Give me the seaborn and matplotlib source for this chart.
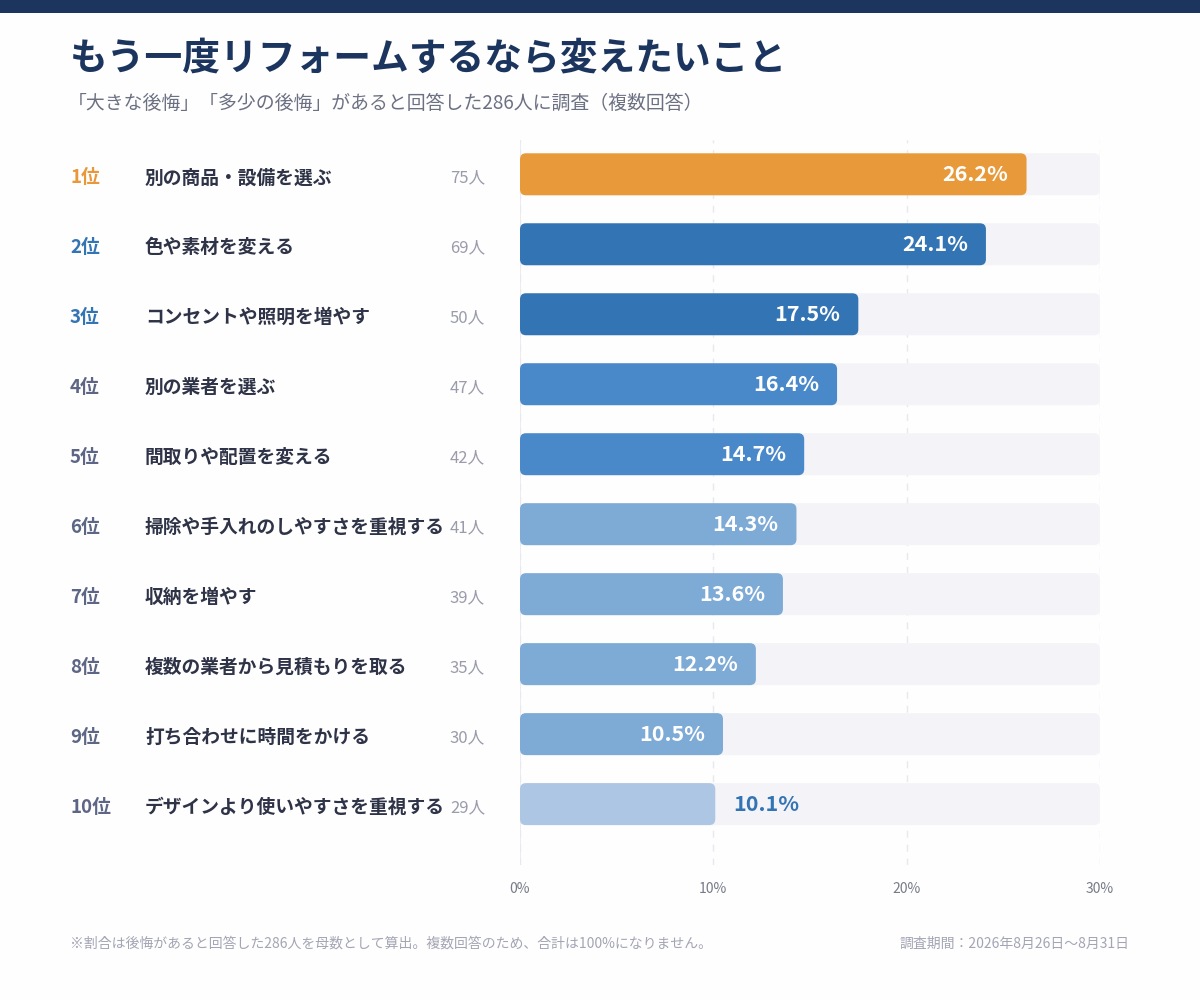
import matplotlib
matplotlib.use('Agg')
import matplotlib.pyplot as plt
import matplotlib.transforms as mtransforms
from matplotlib.patches import FancyBboxPatch, Rectangle
import seaborn as sns
import pandas as pd

# data
ranks = ['1位', '2位', '3位', '4位', '5位', '6位', '7位', '8位', '9位', '10位']
items = [
    '別の商品・設備を選ぶ',
    '色や素材を変える',
    'コンセントや照明を増やす',
    '別の業者を選ぶ',
    '間取りや配置を変える',
    '掃除や手入れのしやすさを重視する',
    '収納を増やす',
    '複数の業者から見積もりを取る',
    '打ち合わせに時間をかける',
    'デザインより使いやすさを重視する',
]
counts = [75, 69, 50, 47, 42, 41, 39, 35, 30, 29]
pcts = [26.2, 24.1, 17.5, 16.4, 14.7, 14.3, 13.6, 12.2, 10.5, 10.1]
x_ticks = [0, 10, 20, 30]
x_max = 30

bar_colors = ['#e89a3a', '#3374b4', '#3374b4', '#4a89c9', '#4a89c9',
              '#7eaad6', '#7eaad6', '#7eaad6', '#7eaad6', '#adc6e3']
rank_colors = ['#e8983a', '#3374b4', '#3374b4', '#5d6685', '#5d6685',
               '#5d6685', '#5d6685', '#5d6685', '#5d6685', '#5d6685']

NAVY = '#1c355e'
TEXT = '#2e3347'
GREY = '#9a9cab'

df = pd.DataFrame({'item': items, 'pct': pcts, 'track': [x_max] * len(items)})

sns.set_theme(style='white')
plt.rcParams['font.family'] = ['Noto Sans CJK JP', 'DejaVu Sans']

fig = plt.figure(figsize=(12, 10), dpi=100)
fig.patch.set_facecolor('#fefefe')
fig.patches.append(Rectangle((0, 0.987), 1, 0.013, transform=fig.transFigure,
                             facecolor=NAVY, edgecolor='none'))

ax = fig.add_axes([520 / 1200, 0.135, 580 / 1200, 0.725])
ax.set_facecolor('none')

sns.barplot(data=df, x='track', y='item', color='#f4f3f9', width=0.6,
            orient='h', ax=ax)
n_track = len(ax.patches)
sns.barplot(data=df, x='pct', y='item', hue='item', palette=bar_colors,
            legend=False, width=0.6, orient='h', ax=ax, saturation=1)

ax.set_xlim(0, x_max)
ax.set_ylim(9.87, -0.49)


def round_bars(ax, radius_px=6):
    # swap the rectangles for rounded boxes with the same geometry
    p0 = ax.transData.transform((0, 0))
    px_x = abs(ax.transData.transform((1, 0))[0] - p0[0])
    px_y = abs(ax.transData.transform((0, 1))[1] - p0[1])
    r = radius_px / px_x
    aspect = px_x / px_y
    for i, p in enumerate(list(ax.patches)):
        x, y, w, h = p.get_x(), p.get_y(), p.get_width(), p.get_height()
        fc = p.get_facecolor()
        p.remove()
        box = FancyBboxPatch((x, y), w, h,
                             boxstyle=f'round,pad=0,rounding_size={r}',
                             mutation_aspect=aspect, facecolor=fc,
                             edgecolor='none', zorder=2 if i < n_track else 3)
        ax.add_patch(box)


round_bars(ax)

# value labels
for i, v in enumerate(pcts):
    if v >= 10.5:
        ax.annotate(f'{v:.1f}%', (v, i), xytext=(-18, 0),
                    textcoords='offset pixels', ha='right', va='center',
                    color='white', fontsize=15.5, fontweight='bold', zorder=4)
    else:
        ax.annotate(f'{v:.1f}%', (v, i), xytext=(18, 0),
                    textcoords='offset pixels', ha='left', va='center',
                    color='#3374b4', fontsize=15.5, fontweight='bold', zorder=4)

# left-side labels
trans = mtransforms.blended_transform_factory(fig.transFigure, ax.transData)
trans = mtransforms.offset_copy(trans, fig=fig, y=-3.5, units='dots')
for i in range(len(items)):
    ax.text(70 / 1200, i, ranks[i], transform=trans, ha='left', va='center',
            fontsize=13.5, fontweight='bold', color=rank_colors[i], clip_on=False)
    ax.text(145 / 1200, i, items[i], transform=trans, ha='left', va='center',
            fontsize=13.5, fontweight='bold', color=TEXT, clip_on=False)
    ax.text(485 / 1200, i, f'{counts[i]}人', transform=trans, ha='right',
            va='center', fontsize=12, color=GREY, clip_on=False)

# axis styling
ax.set_xticks(x_ticks)
ax.set_xticklabels([f'{t}%' for t in x_ticks])
ax.set_yticks([])
ax.set_xlabel('')
ax.set_ylabel('')
for s in ax.spines.values():
    s.set_visible(False)
ax.tick_params(axis='x', length=0, labelsize=10, colors='#777b88', pad=12)
ax.set_axisbelow(True)
ax.grid(axis='x', color='#e8e8ef', linestyle=(0, (5, 5)), linewidth=1)
ax.axvline(0, color='#e8e8ef', linewidth=1.2, zorder=1)

# title block
fig.text(70 / 1200, 1 - 58 / 1000, 'もう一度リフォームするなら変えたいこと',
         ha='left', va='center', fontsize=27.2, fontweight='bold', color=NAVY)
fig.text(68 / 1200, 1 - 103 / 1000,
         '「大きな後悔」「多少の後悔」があると回答した286人に調査（複数回答）',
         ha='left', va='center', fontsize=13.6, color='#6b7083')

# footer
fig.text(70 / 1200, 1 - 944 / 1000,
         '※割合は後悔があると回答した286人を母数として算出。複数回答のため、合計は100%になりません。',
         ha='left', va='center', fontsize=10, color='#a3a5b4')
fig.text(1130 / 1200, 1 - 944 / 1000, '調査期間：2026年8月26日〜8月31日',
         ha='right', va='center', fontsize=10, color='#a3a5b4')

fig.savefig('out.png', dpi=100, facecolor=fig.get_facecolor())
